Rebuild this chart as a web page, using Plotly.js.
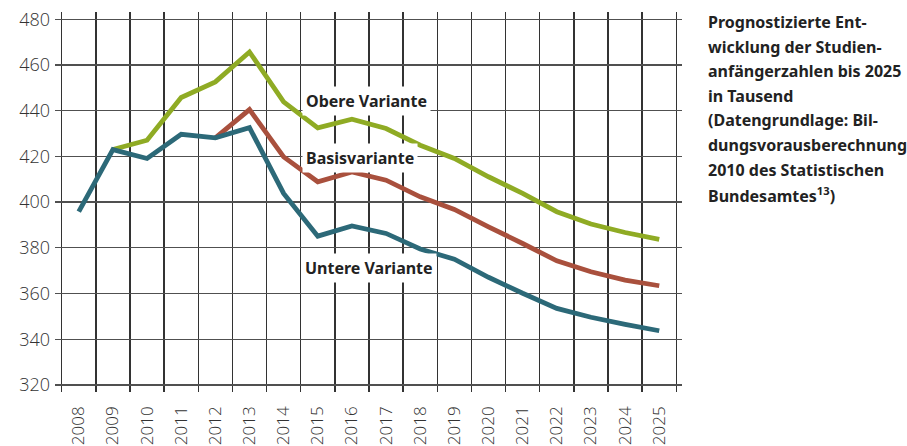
<!DOCTYPE html>
<html>
<head>
<meta charset="utf-8">
<script src="https://cdn.plot.ly/plotly-3.0.1.min.js"></script>
<style>
html,body{margin:0;padding:0;background:#fff;}
#chart{width:907px;height:446px;}
</style>
</head>
<body>
<div id="chart"></div>
<script>
const years = [2008,2009,2010,2011,2012,2013,2014,2015,2016,2017,2018,2019,2020,2021,2022,2023,2024,2025];
const yearLabels = years.map(String);
const obere = [null,423,427.1,445.8,452.6,465.7,443.9,432.5,436.3,432.2,424.9,419.1,411.1,403.8,395.8,390.4,386.7,383.7];
const basis = [null,null,null,null,428.1,440.5,419.8,408.9,413.2,409.6,402.3,396.8,389.2,381.9,374.3,369.5,365.9,363.4];
const untere = [395.8,423,419.1,429.7,428.1,432.6,403.8,385.1,389.6,386.3,379.5,375,367.1,360.1,353.5,349.6,346.5,343.7];
const yTicks = [320,340,360,380,400,420,440,460,480];
const gridX = [2007.5,2008.5,2009.5,2010.5,2011.5,2012.5,2013.5,2014.5,2015.5,2016.5,2017.5,2018.5,2019.5,2020.5,2021.5,2022.5,2023.5,2024.5,2025.5];
const seriesNames = ['Obere Variante','Basisvariante','Untere Variante'];
const titleLines = [
  'Prognostizierte Ent-',
  'wicklung der Studien-',
  'anfängerzahlen bis 2025',
  'in Tausend',
  '(Datengrundlage: Bil-',
  'dungsvorausberechnung',
  '2010 des Statistischen',
  'Bundesamtes<sup>13</sup>)'
];

const colors = ['#8fab24','#a9503d','#2c6978'];
const series = [obere, basis, untere];
const traces = series.map((s,i)=>({
  x: years, y: s, type:'scatter', mode:'lines', name: seriesNames[i],
  connectgaps:false,
  line:{color:colors[i], width:4.8, shape:'linear', simplify:false},
  hoverinfo:'skip'
}));

const M = {l:55, r:225, t:12, b:54};
const plotW = 907 - M.l - M.r, plotH = 446 - M.t - M.b;

const labelPos = [
  {x:2014.55, y:444.2},
  {x:2014.55, y:419.2},
  {x:2014.52, y:371.1}
];
const annotations = seriesNames.map((n,i)=>({
  x: labelPos[i].x, y: labelPos[i].y, xref:'x', yref:'y',
  text: n, showarrow:false, xanchor:'left', yanchor:'middle',
  bgcolor:'#ffffff', borderpad:3,
  font:{family:'Noto Sans', size:16, color:'#222', weight:700}
}));
titleLines.forEach((t,i)=>{
  annotations.push({
    x: (706 - M.l)/plotW, y: 1 - (9 + i*24.6 - M.t)/plotH, xref:'paper', yref:'paper',
    text: t, showarrow:false, xanchor:'left', yanchor:'top', align:'left',
    font:{family:'Noto Sans', size:16, color:'#222', weight:700}
  });
});

const layout = {
  width:907, height:446,
  margin:{l:M.l, r:M.r, t:M.t, b:M.b, pad:0},
  paper_bgcolor:'#fff', plot_bgcolor:'#fff',
  showlegend:false,
  font:{family:'Open Sans', color:'#333'},
  xaxis:{
    range:[2007.304, 2025.667],
    tickmode:'array', tickvals:years, ticktext:yearLabels,
    tickangle:-90, showgrid:false, zeroline:false, showline:false, ticks:'',
    tickfont:{family:'Open Sans', size:17, color:'#333', weight:300},
    ticklabelstandoff:10,
    minor:{tickmode:'array', tickvals:gridX, showgrid:true, gridcolor:'#333333', gridwidth:1.4, ticks:''},
    fixedrange:true
  },
  yaxis:{
    range:[316.9, 483.2],
    tickmode:'array', tickvals:yTicks, ticktext:yTicks.map(String),
    showgrid:true, gridcolor:'#505050', gridwidth:1.3, zeroline:false, showline:false, ticks:'',
    tickfont:{family:'Open Sans', size:18, color:'#333', weight:300},
    ticklabelstandoff:4,
    fixedrange:true
  },
  annotations: annotations
};

Plotly.newPlot('chart', traces, layout, {displayModeBar:false, staticPlot:true});
</script>
</body>
</html>
